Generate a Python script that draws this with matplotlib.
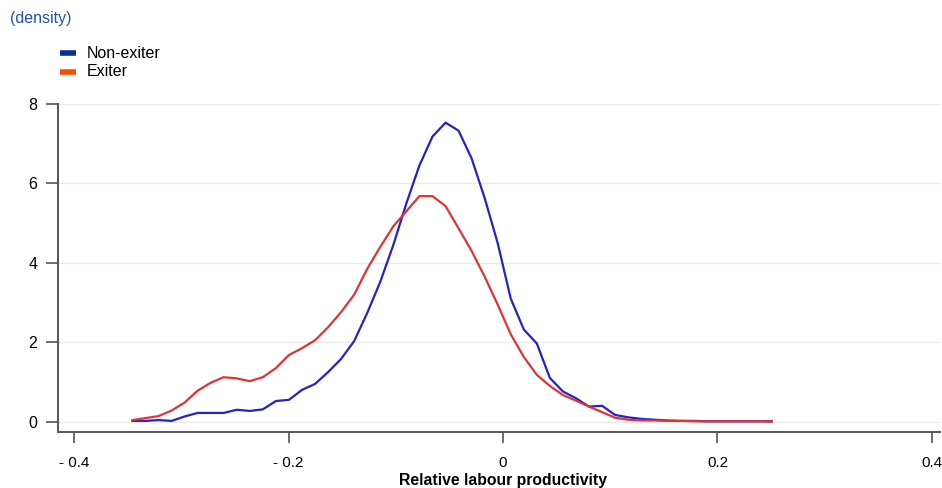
import matplotlib
matplotlib.use("Agg")
import matplotlib.pyplot as plt
from matplotlib.lines import Line2D

plt.rcParams['font.family'] = ['Liberation Sans', 'DejaVu Sans']

# relative labour productivity grid
x = [-0.3456, -0.3335, -0.3213, -0.3091, -0.2970, -0.2848, -0.2726, -0.2605,
     -0.2483, -0.2361, -0.2240, -0.2118, -0.1996, -0.1875, -0.1753, -0.1631,
     -0.1510, -0.1388, -0.1266, -0.1145, -0.1023, -0.0901, -0.0780, -0.0658,
     -0.0536, -0.0415, -0.0293, -0.0171, -0.0050, 0.0072, 0.0194, 0.0315,
     0.0437, 0.0559, 0.0680, 0.0802, 0.0924, 0.1045, 0.1167, 0.1289,
     0.1410, 0.1532, 0.1654, 0.1775, 0.1897, 0.2019, 0.2140, 0.2262,
     0.2384, 0.2506]

non_exiter = [0.02, 0.02, 0.04, 0.02, 0.13, 0.22, 0.22, 0.22, 0.30, 0.27,
              0.31, 0.52, 0.55, 0.80, 0.95, 1.25, 1.58, 2.03, 2.74, 3.52,
              4.45, 5.50, 6.45, 7.18, 7.53, 7.33, 6.63, 5.63, 4.50, 3.10,
              2.32, 1.97, 1.10, 0.76, 0.59, 0.38, 0.40, 0.17, 0.11, 0.07,
              0.05, 0.03, 0.02, 0.02, 0.01, 0.01, 0.01, 0.01, 0.01, 0.01]

exiter = [0.04, 0.09, 0.14, 0.28, 0.48, 0.78, 0.98, 1.12, 1.09, 1.02,
          1.12, 1.35, 1.68, 1.85, 2.05, 2.38, 2.76, 3.20, 3.85, 4.40,
          4.92, 5.30, 5.68, 5.68, 5.43, 4.87, 4.30, 3.65, 2.95, 2.20,
          1.63, 1.18, 0.90, 0.67, 0.53, 0.38, 0.24, 0.10, 0.05, 0.03,
          0.03, 0.02, 0.02, 0.01, 0.01, 0.01, 0.01, 0.01, 0.01, 0.00]

series = ["Non-exiter", "Exiter"]
legend_colors = ['#003299', '#ff4b00']

xticks = [-0.4, -0.2, 0, 0.2, 0.4]
xticklabels = ["- 0.4", "- 0.2", "0", "0.2", "0.4"]
yticks = [0, 2, 4, 6, 8]

W, H = 942, 488
fig = plt.figure(figsize=(W / 100, H / 100), dpi=100)
ax = fig.add_axes([58 / W, 1 - 432 / H, 882 / W, 328 / H])

ax.plot(x, non_exiter, color='#2323c8', lw=1.6)
ax.plot(x, exiter, color='#e03434', lw=1.6)

ax.set_xlim(-0.415, 0.4075)
ax.set_ylim(-0.26, 8)
ax.set_xticks(xticks)
ax.set_xticklabels(xticklabels)
ax.set_yticks(yticks)
for y in yticks:
    ax.axhline(y, color='#ebebeb', lw=1, zorder=0)

for s in ['top', 'right']:
    ax.spines[s].set_visible(False)
for s in ['left', 'bottom']:
    ax.spines[s].set_color('#555555')
    ax.spines[s].set_linewidth(1.4)
ax.tick_params(axis='y', length=9, width=1.2, color='#555555', pad=6, labelsize=11.5)
ax.tick_params(axis='x', length=8, width=1.2, color='#555555', pad=9, labelsize=11)

fig.text(503 / W, 1 - 480 / H, "Relative labour productivity", fontsize=11.3,
         fontweight='bold', ha='center', va='center')

fig.text(10 / W, 1 - 19 / H, "(density)", color='#2450b4', fontsize=11.5, va='center')

# legend drawn by hand
for i, (name, col) in enumerate(zip(series, legend_colors)):
    yy = 1 - (53 + 19 * i) / H
    fig.add_artist(Line2D([60 / W, 76 / W], [yy, yy], transform=fig.transFigure,
                          color=col, lw=4, solid_capstyle='butt'))
    fig.text(87 / W, yy, name, fontsize=11.5, va='center')

fig.savefig("out.png", dpi=100)
